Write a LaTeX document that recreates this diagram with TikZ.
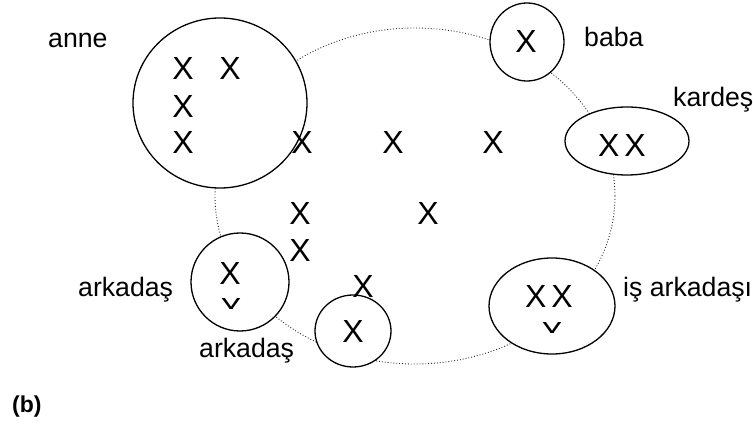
\documentclass[tikz,border=0pt]{standalone}
\usepackage{fontspec}
\setmainfont{Liberation Sans}
\begin{document}
\begin{tikzpicture}[x=1pt,y=-1pt,
  lbl/.style={inner sep=0pt, anchor=base west, font=\fontsize{26.67}{30}\selectfont},
  xm/.style={inner sep=0pt, anchor=base, font=\fontsize{32}{36}\selectfont},
  grp/.style={draw=black, line width=1.3pt, fill=white},
  ring/.style={draw=black!85, dotted, line width=0.9pt}]
\useasboundingbox (0,0) rectangle (753,430);
% network ring
\draw[ring] (415,196) ellipse [x radius=200, y radius=168];
% groups
\draw[grp] (220,103) ellipse [x radius=87, y radius=85];
\draw[grp] (527,42) ellipse [x radius=37, y radius=39];
\draw[grp] (627,141) ellipse [x radius=62, y radius=34];
\draw[grp] (552,306) ellipse [x radius=63, y radius=48];
\draw[grp] (240,282) ellipse [x radius=49, y radius=49];
\draw[grp] (353,331) ellipse [x radius=38, y radius=36];
% labels
\node[lbl] (anne) at (48,48) {anne};
\node[lbl] (baba) at (584,47) {baba};
\node[lbl] (kardes) at (673,107) {kardeş};
\node[lbl] (ark1) at (78,297) {arkadaş};
\node[lbl] (ark2) at (199,358) {arkadaş};
\node[lbl] (is) at (623,297) {iş arkadaşı};
\node[lbl, font=\bfseries\fontsize{23}{27}\selectfont] (b) at (12,413) {(b)};
% members
\node[xm] (x1) at (183,80) {X};
\node[xm] (x2) at (230,80) {X};
\node[xm] (x3) at (183,118) {X};
\node[xm] (x4) at (183,154) {X};
\node[xm] (x5) at (302,154) {X};
\node[xm] (x6) at (393,154) {X};
\node[xm] (x7) at (493,154) {X};
\node[xm] (x8) at (300,225) {X};
\node[xm] (x9) at (428,225) {X};
\node[xm] (x10) at (300,262) {X};
\node[xm] (x11) at (363,298) {X};
\node[xm] (x12) at (230,285) {X};
\node[xm] (x13) at (353,343) {X};
\node[xm] (x14) at (526,53) {X};
\node[xm] (x15) at (622,157) {X\kern5pt X};
\node[xm] (x16) at (549,308) {X\kern5pt X};
\begin{scope}
  \clip (210,290) rectangle (250,309);
  \node[xm] (x17) at (231,320.5) {X};
\end{scope}
\begin{scope}
  \clip (530,312) rectangle (575,333);
  \node[xm] (x18) at (552,344.5) {X};
\end{scope}
\end{tikzpicture}
\end{document}
